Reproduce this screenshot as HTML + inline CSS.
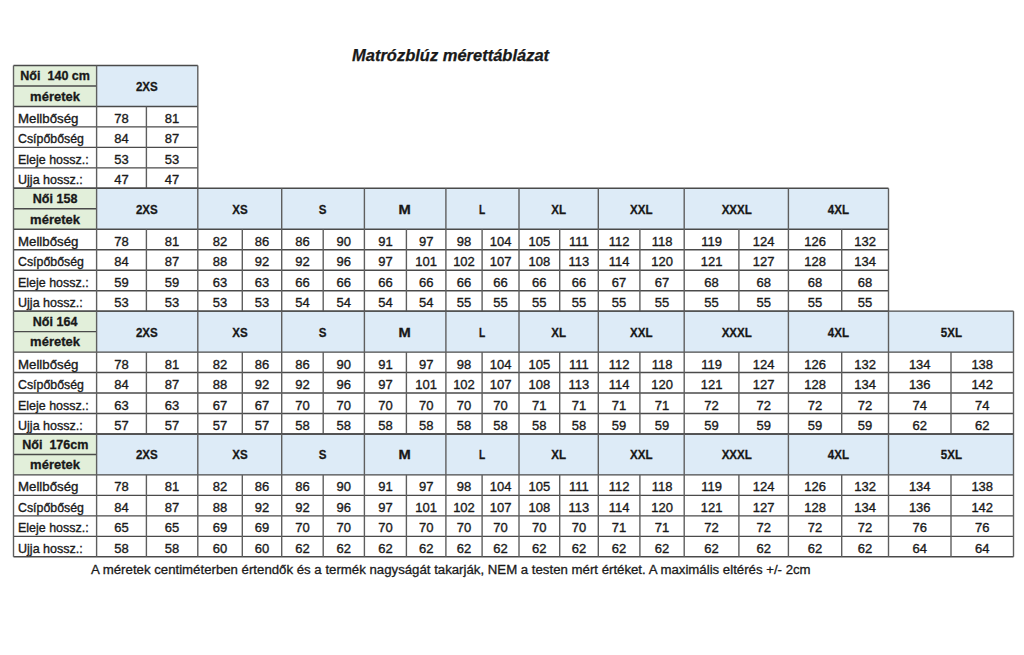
<!DOCTYPE html>
<html><head><meta charset="utf-8"><style>
html,body{margin:0;padding:0;background:#fff;}
body{width:1024px;height:655px;position:relative;overflow:hidden;font-family:"Liberation Sans",sans-serif;color:#1a1a1a;}
svg{position:absolute;left:0;top:0;}
line.v{stroke:#5e5e5e;}
.d,.h,.hl,.lab{position:absolute;display:flex;align-items:center;justify-content:center;white-space:nowrap;}
.d{font-size:13.0px;}
.d,.lab{padding-top:3.6px;box-sizing:border-box;-webkit-text-stroke:0.35px #1a1a1a;}
.foot{-webkit-text-stroke:0.3px #1a1a1a;}
.lab{justify-content:flex-start;font-size:13.0px;box-sizing:border-box;padding-left:4.5px;}
.lab span{display:inline-block;transform-origin:0 50%;}
.lab span{}
.h,.hl{font-weight:bold;font-size:13.0px;}
.h span{display:inline-block;transform:scaleX(0.85);font-size:13.6px;position:relative;top:0.5px;}
.h,.hl{-webkit-text-stroke:0.3px #111;}
.hl span.n{display:inline-block;transform:scaleX(0.965);}
.title{position:absolute;left:352px;top:46px;font-weight:bold;font-style:italic;font-size:16.5px;white-space:nowrap;-webkit-text-stroke:0.25px #111;}
.foot{position:absolute;left:91px;top:561.5px;font-size:13.23px;white-space:nowrap;}
</style></head><body>
<div class="title">Matrózblúz mérettáblázat</div>
<svg width="1024" height="655" viewBox="0 0 1024 655">
<rect x="13.50" y="65.50" width="83.10" height="40.94" fill="#e2efda"/><rect x="96.60" y="65.50" width="101.20" height="40.94" fill="#ddebf7"/><rect x="13.50" y="188.32" width="83.10" height="40.94" fill="#e2efda"/><rect x="96.60" y="188.32" width="791.90" height="40.94" fill="#ddebf7"/><rect x="13.50" y="311.15" width="83.10" height="40.94" fill="#e2efda"/><rect x="96.60" y="311.15" width="916.90" height="40.94" fill="#ddebf7"/><rect x="13.50" y="433.97" width="83.10" height="40.94" fill="#e2efda"/><rect x="96.60" y="433.97" width="916.90" height="40.94" fill="#ddebf7"/>
<g stroke="#4a4a4a" stroke-width="1.4">
<line x1="13.50" y1="65.50" x2="197.80" y2="65.50"/>
<line x1="13.50" y1="85.97" x2="96.60" y2="85.97"/>
<line x1="13.50" y1="106.44" x2="197.80" y2="106.44"/>
<line x1="13.50" y1="126.91" x2="197.80" y2="126.91"/>
<line x1="13.50" y1="147.38" x2="197.80" y2="147.38"/>
<line x1="13.50" y1="167.85" x2="197.80" y2="167.85"/>
<line x1="13.50" y1="188.32" x2="197.80" y2="188.32"/>
<line x1="13.50" y1="65.50" x2="13.50" y2="188.32" class="v"/>
<line x1="96.60" y1="65.50" x2="96.60" y2="188.32" class="v"/>
<line x1="197.80" y1="65.50" x2="197.80" y2="188.32" class="v"/>
<line x1="146.40" y1="106.44" x2="146.40" y2="188.32" class="v"/>
<line x1="13.50" y1="188.32" x2="888.50" y2="188.32"/>
<line x1="13.50" y1="208.80" x2="96.60" y2="208.80"/>
<line x1="13.50" y1="229.27" x2="888.50" y2="229.27"/>
<line x1="13.50" y1="249.74" x2="888.50" y2="249.74"/>
<line x1="13.50" y1="270.21" x2="888.50" y2="270.21"/>
<line x1="13.50" y1="290.68" x2="888.50" y2="290.68"/>
<line x1="13.50" y1="311.15" x2="888.50" y2="311.15"/>
<line x1="13.50" y1="188.32" x2="13.50" y2="311.15" class="v"/>
<line x1="96.60" y1="188.32" x2="96.60" y2="311.15" class="v"/>
<line x1="197.80" y1="188.32" x2="197.80" y2="311.15" class="v"/>
<line x1="146.40" y1="229.27" x2="146.40" y2="311.15" class="v"/>
<line x1="281.70" y1="188.32" x2="281.70" y2="311.15" class="v"/>
<line x1="242.30" y1="229.27" x2="242.30" y2="311.15" class="v"/>
<line x1="364.40" y1="188.32" x2="364.40" y2="311.15" class="v"/>
<line x1="323.20" y1="229.27" x2="323.20" y2="311.15" class="v"/>
<line x1="445.90" y1="188.32" x2="445.90" y2="311.15" class="v"/>
<line x1="406.40" y1="229.27" x2="406.40" y2="311.15" class="v"/>
<line x1="519.00" y1="188.32" x2="519.00" y2="311.15" class="v"/>
<line x1="482.10" y1="229.27" x2="482.10" y2="311.15" class="v"/>
<line x1="598.30" y1="188.32" x2="598.30" y2="311.15" class="v"/>
<line x1="559.70" y1="229.27" x2="559.70" y2="311.15" class="v"/>
<line x1="684.20" y1="188.32" x2="684.20" y2="311.15" class="v"/>
<line x1="639.90" y1="229.27" x2="639.90" y2="311.15" class="v"/>
<line x1="788.40" y1="188.32" x2="788.40" y2="311.15" class="v"/>
<line x1="738.90" y1="229.27" x2="738.90" y2="311.15" class="v"/>
<line x1="888.50" y1="188.32" x2="888.50" y2="311.15" class="v"/>
<line x1="841.70" y1="229.27" x2="841.70" y2="311.15" class="v"/>
<line x1="13.50" y1="311.15" x2="1013.50" y2="311.15"/>
<line x1="13.50" y1="331.62" x2="96.60" y2="331.62"/>
<line x1="13.50" y1="352.09" x2="1013.50" y2="352.09"/>
<line x1="13.50" y1="372.56" x2="1013.50" y2="372.56"/>
<line x1="13.50" y1="393.03" x2="1013.50" y2="393.03"/>
<line x1="13.50" y1="413.50" x2="1013.50" y2="413.50"/>
<line x1="13.50" y1="433.97" x2="1013.50" y2="433.97"/>
<line x1="13.50" y1="311.15" x2="13.50" y2="433.97" class="v"/>
<line x1="96.60" y1="311.15" x2="96.60" y2="433.97" class="v"/>
<line x1="197.80" y1="311.15" x2="197.80" y2="433.97" class="v"/>
<line x1="146.40" y1="352.09" x2="146.40" y2="433.97" class="v"/>
<line x1="281.70" y1="311.15" x2="281.70" y2="433.97" class="v"/>
<line x1="242.30" y1="352.09" x2="242.30" y2="433.97" class="v"/>
<line x1="364.40" y1="311.15" x2="364.40" y2="433.97" class="v"/>
<line x1="323.20" y1="352.09" x2="323.20" y2="433.97" class="v"/>
<line x1="445.90" y1="311.15" x2="445.90" y2="433.97" class="v"/>
<line x1="406.40" y1="352.09" x2="406.40" y2="433.97" class="v"/>
<line x1="519.00" y1="311.15" x2="519.00" y2="433.97" class="v"/>
<line x1="482.10" y1="352.09" x2="482.10" y2="433.97" class="v"/>
<line x1="598.30" y1="311.15" x2="598.30" y2="433.97" class="v"/>
<line x1="559.70" y1="352.09" x2="559.70" y2="433.97" class="v"/>
<line x1="684.20" y1="311.15" x2="684.20" y2="433.97" class="v"/>
<line x1="639.90" y1="352.09" x2="639.90" y2="433.97" class="v"/>
<line x1="788.40" y1="311.15" x2="788.40" y2="433.97" class="v"/>
<line x1="738.90" y1="352.09" x2="738.90" y2="433.97" class="v"/>
<line x1="888.50" y1="311.15" x2="888.50" y2="433.97" class="v"/>
<line x1="841.70" y1="352.09" x2="841.70" y2="433.97" class="v"/>
<line x1="1013.50" y1="311.15" x2="1013.50" y2="433.97" class="v"/>
<line x1="951.00" y1="352.09" x2="951.00" y2="433.97" class="v"/>
<line x1="13.50" y1="433.97" x2="1013.50" y2="433.97"/>
<line x1="13.50" y1="454.45" x2="96.60" y2="454.45"/>
<line x1="13.50" y1="474.92" x2="1013.50" y2="474.92"/>
<line x1="13.50" y1="495.39" x2="1013.50" y2="495.39"/>
<line x1="13.50" y1="515.86" x2="1013.50" y2="515.86"/>
<line x1="13.50" y1="536.33" x2="1013.50" y2="536.33"/>
<line x1="13.50" y1="556.80" x2="1013.50" y2="556.80"/>
<line x1="13.50" y1="433.97" x2="13.50" y2="556.80" class="v"/>
<line x1="96.60" y1="433.97" x2="96.60" y2="556.80" class="v"/>
<line x1="197.80" y1="433.97" x2="197.80" y2="556.80" class="v"/>
<line x1="146.40" y1="474.92" x2="146.40" y2="556.80" class="v"/>
<line x1="281.70" y1="433.97" x2="281.70" y2="556.80" class="v"/>
<line x1="242.30" y1="474.92" x2="242.30" y2="556.80" class="v"/>
<line x1="364.40" y1="433.97" x2="364.40" y2="556.80" class="v"/>
<line x1="323.20" y1="474.92" x2="323.20" y2="556.80" class="v"/>
<line x1="445.90" y1="433.97" x2="445.90" y2="556.80" class="v"/>
<line x1="406.40" y1="474.92" x2="406.40" y2="556.80" class="v"/>
<line x1="519.00" y1="433.97" x2="519.00" y2="556.80" class="v"/>
<line x1="482.10" y1="474.92" x2="482.10" y2="556.80" class="v"/>
<line x1="598.30" y1="433.97" x2="598.30" y2="556.80" class="v"/>
<line x1="559.70" y1="474.92" x2="559.70" y2="556.80" class="v"/>
<line x1="684.20" y1="433.97" x2="684.20" y2="556.80" class="v"/>
<line x1="639.90" y1="474.92" x2="639.90" y2="556.80" class="v"/>
<line x1="788.40" y1="433.97" x2="788.40" y2="556.80" class="v"/>
<line x1="738.90" y1="474.92" x2="738.90" y2="556.80" class="v"/>
<line x1="888.50" y1="433.97" x2="888.50" y2="556.80" class="v"/>
<line x1="841.70" y1="474.92" x2="841.70" y2="556.80" class="v"/>
<line x1="1013.50" y1="433.97" x2="1013.50" y2="556.80" class="v"/>
<line x1="951.00" y1="474.92" x2="951.00" y2="556.80" class="v"/>
</g>
</svg>
<div class="h" style="left:96.60px;top:65.50px;width:101.20px;height:40.94px"><span>2XS</span></div><div class="hl" style="left:13.50px;top:65.70px;width:83.10px;height:20.47px"><span class="n">Női&nbsp;&nbsp;140 cm</span></div><div class="hl" style="left:13.50px;top:85.97px;width:83.10px;height:20.47px">méretek</div><div class="lab" style="left:13.50px;top:106.44px;width:83.10px;height:20.47px"><span style="transform:scaleX(1.02)">Mellbőség</span></div><div class="d" style="left:96.60px;top:106.44px;width:49.80px;height:20.47px">78</div><div class="d" style="left:146.40px;top:106.44px;width:51.40px;height:20.47px">81</div><div class="lab" style="left:13.50px;top:126.91px;width:83.10px;height:20.47px"><span style="transform:scaleX(0.95)">Csípőbőség</span></div><div class="d" style="left:96.60px;top:126.91px;width:49.80px;height:20.47px">84</div><div class="d" style="left:146.40px;top:126.91px;width:51.40px;height:20.47px">87</div><div class="lab" style="left:13.50px;top:147.38px;width:83.10px;height:20.47px"><span style="transform:scaleX(0.958)">Eleje hossz.:</span></div><div class="d" style="left:96.60px;top:147.38px;width:49.80px;height:20.47px">53</div><div class="d" style="left:146.40px;top:147.38px;width:51.40px;height:20.47px">53</div><div class="lab" style="left:13.50px;top:167.85px;width:83.10px;height:20.47px"><span style="transform:scaleX(0.965)">Ujja hossz.:</span></div><div class="d" style="left:96.60px;top:167.85px;width:49.80px;height:20.47px">47</div><div class="d" style="left:146.40px;top:167.85px;width:51.40px;height:20.47px">47</div><div class="h" style="left:96.60px;top:188.32px;width:101.20px;height:40.94px"><span>2XS</span></div><div class="h" style="left:197.80px;top:188.32px;width:83.90px;height:40.94px"><span>XS</span></div><div class="h" style="left:281.70px;top:188.32px;width:82.70px;height:40.94px"><span>S</span></div><div class="h" style="left:364.40px;top:188.32px;width:81.50px;height:40.94px"><span style="transform:scaleX(1.08)">M</span></div><div class="h" style="left:445.90px;top:188.32px;width:73.10px;height:40.94px"><span style="transform:scaleX(0.75)">L</span></div><div class="h" style="left:519.00px;top:188.32px;width:79.30px;height:40.94px"><span>XL</span></div><div class="h" style="left:598.30px;top:188.32px;width:85.90px;height:40.94px"><span>XXL</span></div><div class="h" style="left:684.20px;top:188.32px;width:104.20px;height:40.94px"><span>XXXL</span></div><div class="h" style="left:788.40px;top:188.32px;width:100.10px;height:40.94px"><span>4XL</span></div><div class="hl" style="left:13.50px;top:188.52px;width:83.10px;height:20.47px"><span class="n">Női 158</span></div><div class="hl" style="left:13.50px;top:208.80px;width:83.10px;height:20.47px">méretek</div><div class="lab" style="left:13.50px;top:229.27px;width:83.10px;height:20.47px"><span style="transform:scaleX(1.02)">Mellbőség</span></div><div class="d" style="left:96.60px;top:229.27px;width:49.80px;height:20.47px">78</div><div class="d" style="left:146.40px;top:229.27px;width:51.40px;height:20.47px">81</div><div class="d" style="left:197.80px;top:229.27px;width:44.50px;height:20.47px">82</div><div class="d" style="left:242.30px;top:229.27px;width:39.40px;height:20.47px">86</div><div class="d" style="left:281.70px;top:229.27px;width:41.50px;height:20.47px">86</div><div class="d" style="left:323.20px;top:229.27px;width:41.20px;height:20.47px">90</div><div class="d" style="left:364.40px;top:229.27px;width:42.00px;height:20.47px">91</div><div class="d" style="left:406.40px;top:229.27px;width:39.50px;height:20.47px">97</div><div class="d" style="left:445.90px;top:229.27px;width:36.20px;height:20.47px">98</div><div class="d" style="left:482.10px;top:229.27px;width:36.90px;height:20.47px">104</div><div class="d" style="left:519.00px;top:229.27px;width:40.70px;height:20.47px">105</div><div class="d" style="left:559.70px;top:229.27px;width:38.60px;height:20.47px">111</div><div class="d" style="left:598.30px;top:229.27px;width:41.60px;height:20.47px">112</div><div class="d" style="left:639.90px;top:229.27px;width:44.30px;height:20.47px">118</div><div class="d" style="left:684.20px;top:229.27px;width:54.70px;height:20.47px">119</div><div class="d" style="left:738.90px;top:229.27px;width:49.50px;height:20.47px">124</div><div class="d" style="left:788.40px;top:229.27px;width:53.30px;height:20.47px">126</div><div class="d" style="left:841.70px;top:229.27px;width:46.80px;height:20.47px">132</div><div class="lab" style="left:13.50px;top:249.74px;width:83.10px;height:20.47px"><span style="transform:scaleX(0.95)">Csípőbőség</span></div><div class="d" style="left:96.60px;top:249.74px;width:49.80px;height:20.47px">84</div><div class="d" style="left:146.40px;top:249.74px;width:51.40px;height:20.47px">87</div><div class="d" style="left:197.80px;top:249.74px;width:44.50px;height:20.47px">88</div><div class="d" style="left:242.30px;top:249.74px;width:39.40px;height:20.47px">92</div><div class="d" style="left:281.70px;top:249.74px;width:41.50px;height:20.47px">92</div><div class="d" style="left:323.20px;top:249.74px;width:41.20px;height:20.47px">96</div><div class="d" style="left:364.40px;top:249.74px;width:42.00px;height:20.47px">97</div><div class="d" style="left:406.40px;top:249.74px;width:39.50px;height:20.47px">101</div><div class="d" style="left:445.90px;top:249.74px;width:36.20px;height:20.47px">102</div><div class="d" style="left:482.10px;top:249.74px;width:36.90px;height:20.47px">107</div><div class="d" style="left:519.00px;top:249.74px;width:40.70px;height:20.47px">108</div><div class="d" style="left:559.70px;top:249.74px;width:38.60px;height:20.47px">113</div><div class="d" style="left:598.30px;top:249.74px;width:41.60px;height:20.47px">114</div><div class="d" style="left:639.90px;top:249.74px;width:44.30px;height:20.47px">120</div><div class="d" style="left:684.20px;top:249.74px;width:54.70px;height:20.47px">121</div><div class="d" style="left:738.90px;top:249.74px;width:49.50px;height:20.47px">127</div><div class="d" style="left:788.40px;top:249.74px;width:53.30px;height:20.47px">128</div><div class="d" style="left:841.70px;top:249.74px;width:46.80px;height:20.47px">134</div><div class="lab" style="left:13.50px;top:270.21px;width:83.10px;height:20.47px"><span style="transform:scaleX(0.958)">Eleje hossz.:</span></div><div class="d" style="left:96.60px;top:270.21px;width:49.80px;height:20.47px">59</div><div class="d" style="left:146.40px;top:270.21px;width:51.40px;height:20.47px">59</div><div class="d" style="left:197.80px;top:270.21px;width:44.50px;height:20.47px">63</div><div class="d" style="left:242.30px;top:270.21px;width:39.40px;height:20.47px">63</div><div class="d" style="left:281.70px;top:270.21px;width:41.50px;height:20.47px">66</div><div class="d" style="left:323.20px;top:270.21px;width:41.20px;height:20.47px">66</div><div class="d" style="left:364.40px;top:270.21px;width:42.00px;height:20.47px">66</div><div class="d" style="left:406.40px;top:270.21px;width:39.50px;height:20.47px">66</div><div class="d" style="left:445.90px;top:270.21px;width:36.20px;height:20.47px">66</div><div class="d" style="left:482.10px;top:270.21px;width:36.90px;height:20.47px">66</div><div class="d" style="left:519.00px;top:270.21px;width:40.70px;height:20.47px">66</div><div class="d" style="left:559.70px;top:270.21px;width:38.60px;height:20.47px">66</div><div class="d" style="left:598.30px;top:270.21px;width:41.60px;height:20.47px">67</div><div class="d" style="left:639.90px;top:270.21px;width:44.30px;height:20.47px">67</div><div class="d" style="left:684.20px;top:270.21px;width:54.70px;height:20.47px">68</div><div class="d" style="left:738.90px;top:270.21px;width:49.50px;height:20.47px">68</div><div class="d" style="left:788.40px;top:270.21px;width:53.30px;height:20.47px">68</div><div class="d" style="left:841.70px;top:270.21px;width:46.80px;height:20.47px">68</div><div class="lab" style="left:13.50px;top:290.68px;width:83.10px;height:20.47px"><span style="transform:scaleX(0.965)">Ujja hossz.:</span></div><div class="d" style="left:96.60px;top:290.68px;width:49.80px;height:20.47px">53</div><div class="d" style="left:146.40px;top:290.68px;width:51.40px;height:20.47px">53</div><div class="d" style="left:197.80px;top:290.68px;width:44.50px;height:20.47px">53</div><div class="d" style="left:242.30px;top:290.68px;width:39.40px;height:20.47px">53</div><div class="d" style="left:281.70px;top:290.68px;width:41.50px;height:20.47px">54</div><div class="d" style="left:323.20px;top:290.68px;width:41.20px;height:20.47px">54</div><div class="d" style="left:364.40px;top:290.68px;width:42.00px;height:20.47px">54</div><div class="d" style="left:406.40px;top:290.68px;width:39.50px;height:20.47px">54</div><div class="d" style="left:445.90px;top:290.68px;width:36.20px;height:20.47px">55</div><div class="d" style="left:482.10px;top:290.68px;width:36.90px;height:20.47px">55</div><div class="d" style="left:519.00px;top:290.68px;width:40.70px;height:20.47px">55</div><div class="d" style="left:559.70px;top:290.68px;width:38.60px;height:20.47px">55</div><div class="d" style="left:598.30px;top:290.68px;width:41.60px;height:20.47px">55</div><div class="d" style="left:639.90px;top:290.68px;width:44.30px;height:20.47px">55</div><div class="d" style="left:684.20px;top:290.68px;width:54.70px;height:20.47px">55</div><div class="d" style="left:738.90px;top:290.68px;width:49.50px;height:20.47px">55</div><div class="d" style="left:788.40px;top:290.68px;width:53.30px;height:20.47px">55</div><div class="d" style="left:841.70px;top:290.68px;width:46.80px;height:20.47px">55</div><div class="h" style="left:96.60px;top:311.15px;width:101.20px;height:40.94px"><span>2XS</span></div><div class="h" style="left:197.80px;top:311.15px;width:83.90px;height:40.94px"><span>XS</span></div><div class="h" style="left:281.70px;top:311.15px;width:82.70px;height:40.94px"><span>S</span></div><div class="h" style="left:364.40px;top:311.15px;width:81.50px;height:40.94px"><span style="transform:scaleX(1.08)">M</span></div><div class="h" style="left:445.90px;top:311.15px;width:73.10px;height:40.94px"><span style="transform:scaleX(0.75)">L</span></div><div class="h" style="left:519.00px;top:311.15px;width:79.30px;height:40.94px"><span>XL</span></div><div class="h" style="left:598.30px;top:311.15px;width:85.90px;height:40.94px"><span>XXL</span></div><div class="h" style="left:684.20px;top:311.15px;width:104.20px;height:40.94px"><span>XXXL</span></div><div class="h" style="left:788.40px;top:311.15px;width:100.10px;height:40.94px"><span>4XL</span></div><div class="h" style="left:888.50px;top:311.15px;width:125.00px;height:40.94px"><span>5XL</span></div><div class="hl" style="left:13.50px;top:311.35px;width:83.10px;height:20.47px"><span class="n">Női 164</span></div><div class="hl" style="left:13.50px;top:331.62px;width:83.10px;height:20.47px">méretek</div><div class="lab" style="left:13.50px;top:352.09px;width:83.10px;height:20.47px"><span style="transform:scaleX(1.02)">Mellbőség</span></div><div class="d" style="left:96.60px;top:352.09px;width:49.80px;height:20.47px">78</div><div class="d" style="left:146.40px;top:352.09px;width:51.40px;height:20.47px">81</div><div class="d" style="left:197.80px;top:352.09px;width:44.50px;height:20.47px">82</div><div class="d" style="left:242.30px;top:352.09px;width:39.40px;height:20.47px">86</div><div class="d" style="left:281.70px;top:352.09px;width:41.50px;height:20.47px">86</div><div class="d" style="left:323.20px;top:352.09px;width:41.20px;height:20.47px">90</div><div class="d" style="left:364.40px;top:352.09px;width:42.00px;height:20.47px">91</div><div class="d" style="left:406.40px;top:352.09px;width:39.50px;height:20.47px">97</div><div class="d" style="left:445.90px;top:352.09px;width:36.20px;height:20.47px">98</div><div class="d" style="left:482.10px;top:352.09px;width:36.90px;height:20.47px">104</div><div class="d" style="left:519.00px;top:352.09px;width:40.70px;height:20.47px">105</div><div class="d" style="left:559.70px;top:352.09px;width:38.60px;height:20.47px">111</div><div class="d" style="left:598.30px;top:352.09px;width:41.60px;height:20.47px">112</div><div class="d" style="left:639.90px;top:352.09px;width:44.30px;height:20.47px">118</div><div class="d" style="left:684.20px;top:352.09px;width:54.70px;height:20.47px">119</div><div class="d" style="left:738.90px;top:352.09px;width:49.50px;height:20.47px">124</div><div class="d" style="left:788.40px;top:352.09px;width:53.30px;height:20.47px">126</div><div class="d" style="left:841.70px;top:352.09px;width:46.80px;height:20.47px">132</div><div class="d" style="left:888.50px;top:352.09px;width:62.50px;height:20.47px">134</div><div class="d" style="left:951.00px;top:352.09px;width:62.50px;height:20.47px">138</div><div class="lab" style="left:13.50px;top:372.56px;width:83.10px;height:20.47px"><span style="transform:scaleX(0.95)">Csípőbőség</span></div><div class="d" style="left:96.60px;top:372.56px;width:49.80px;height:20.47px">84</div><div class="d" style="left:146.40px;top:372.56px;width:51.40px;height:20.47px">87</div><div class="d" style="left:197.80px;top:372.56px;width:44.50px;height:20.47px">88</div><div class="d" style="left:242.30px;top:372.56px;width:39.40px;height:20.47px">92</div><div class="d" style="left:281.70px;top:372.56px;width:41.50px;height:20.47px">92</div><div class="d" style="left:323.20px;top:372.56px;width:41.20px;height:20.47px">96</div><div class="d" style="left:364.40px;top:372.56px;width:42.00px;height:20.47px">97</div><div class="d" style="left:406.40px;top:372.56px;width:39.50px;height:20.47px">101</div><div class="d" style="left:445.90px;top:372.56px;width:36.20px;height:20.47px">102</div><div class="d" style="left:482.10px;top:372.56px;width:36.90px;height:20.47px">107</div><div class="d" style="left:519.00px;top:372.56px;width:40.70px;height:20.47px">108</div><div class="d" style="left:559.70px;top:372.56px;width:38.60px;height:20.47px">113</div><div class="d" style="left:598.30px;top:372.56px;width:41.60px;height:20.47px">114</div><div class="d" style="left:639.90px;top:372.56px;width:44.30px;height:20.47px">120</div><div class="d" style="left:684.20px;top:372.56px;width:54.70px;height:20.47px">121</div><div class="d" style="left:738.90px;top:372.56px;width:49.50px;height:20.47px">127</div><div class="d" style="left:788.40px;top:372.56px;width:53.30px;height:20.47px">128</div><div class="d" style="left:841.70px;top:372.56px;width:46.80px;height:20.47px">134</div><div class="d" style="left:888.50px;top:372.56px;width:62.50px;height:20.47px">136</div><div class="d" style="left:951.00px;top:372.56px;width:62.50px;height:20.47px">142</div><div class="lab" style="left:13.50px;top:393.03px;width:83.10px;height:20.47px"><span style="transform:scaleX(0.958)">Eleje hossz.:</span></div><div class="d" style="left:96.60px;top:393.03px;width:49.80px;height:20.47px">63</div><div class="d" style="left:146.40px;top:393.03px;width:51.40px;height:20.47px">63</div><div class="d" style="left:197.80px;top:393.03px;width:44.50px;height:20.47px">67</div><div class="d" style="left:242.30px;top:393.03px;width:39.40px;height:20.47px">67</div><div class="d" style="left:281.70px;top:393.03px;width:41.50px;height:20.47px">70</div><div class="d" style="left:323.20px;top:393.03px;width:41.20px;height:20.47px">70</div><div class="d" style="left:364.40px;top:393.03px;width:42.00px;height:20.47px">70</div><div class="d" style="left:406.40px;top:393.03px;width:39.50px;height:20.47px">70</div><div class="d" style="left:445.90px;top:393.03px;width:36.20px;height:20.47px">70</div><div class="d" style="left:482.10px;top:393.03px;width:36.90px;height:20.47px">70</div><div class="d" style="left:519.00px;top:393.03px;width:40.70px;height:20.47px">71</div><div class="d" style="left:559.70px;top:393.03px;width:38.60px;height:20.47px">71</div><div class="d" style="left:598.30px;top:393.03px;width:41.60px;height:20.47px">71</div><div class="d" style="left:639.90px;top:393.03px;width:44.30px;height:20.47px">71</div><div class="d" style="left:684.20px;top:393.03px;width:54.70px;height:20.47px">72</div><div class="d" style="left:738.90px;top:393.03px;width:49.50px;height:20.47px">72</div><div class="d" style="left:788.40px;top:393.03px;width:53.30px;height:20.47px">72</div><div class="d" style="left:841.70px;top:393.03px;width:46.80px;height:20.47px">72</div><div class="d" style="left:888.50px;top:393.03px;width:62.50px;height:20.47px">74</div><div class="d" style="left:951.00px;top:393.03px;width:62.50px;height:20.47px">74</div><div class="lab" style="left:13.50px;top:413.50px;width:83.10px;height:20.47px"><span style="transform:scaleX(0.965)">Ujja hossz.:</span></div><div class="d" style="left:96.60px;top:413.50px;width:49.80px;height:20.47px">57</div><div class="d" style="left:146.40px;top:413.50px;width:51.40px;height:20.47px">57</div><div class="d" style="left:197.80px;top:413.50px;width:44.50px;height:20.47px">57</div><div class="d" style="left:242.30px;top:413.50px;width:39.40px;height:20.47px">57</div><div class="d" style="left:281.70px;top:413.50px;width:41.50px;height:20.47px">58</div><div class="d" style="left:323.20px;top:413.50px;width:41.20px;height:20.47px">58</div><div class="d" style="left:364.40px;top:413.50px;width:42.00px;height:20.47px">58</div><div class="d" style="left:406.40px;top:413.50px;width:39.50px;height:20.47px">58</div><div class="d" style="left:445.90px;top:413.50px;width:36.20px;height:20.47px">58</div><div class="d" style="left:482.10px;top:413.50px;width:36.90px;height:20.47px">58</div><div class="d" style="left:519.00px;top:413.50px;width:40.70px;height:20.47px">58</div><div class="d" style="left:559.70px;top:413.50px;width:38.60px;height:20.47px">58</div><div class="d" style="left:598.30px;top:413.50px;width:41.60px;height:20.47px">59</div><div class="d" style="left:639.90px;top:413.50px;width:44.30px;height:20.47px">59</div><div class="d" style="left:684.20px;top:413.50px;width:54.70px;height:20.47px">59</div><div class="d" style="left:738.90px;top:413.50px;width:49.50px;height:20.47px">59</div><div class="d" style="left:788.40px;top:413.50px;width:53.30px;height:20.47px">59</div><div class="d" style="left:841.70px;top:413.50px;width:46.80px;height:20.47px">59</div><div class="d" style="left:888.50px;top:413.50px;width:62.50px;height:20.47px">62</div><div class="d" style="left:951.00px;top:413.50px;width:62.50px;height:20.47px">62</div><div class="h" style="left:96.60px;top:433.97px;width:101.20px;height:40.94px"><span>2XS</span></div><div class="h" style="left:197.80px;top:433.97px;width:83.90px;height:40.94px"><span>XS</span></div><div class="h" style="left:281.70px;top:433.97px;width:82.70px;height:40.94px"><span>S</span></div><div class="h" style="left:364.40px;top:433.97px;width:81.50px;height:40.94px"><span style="transform:scaleX(1.08)">M</span></div><div class="h" style="left:445.90px;top:433.97px;width:73.10px;height:40.94px"><span style="transform:scaleX(0.75)">L</span></div><div class="h" style="left:519.00px;top:433.97px;width:79.30px;height:40.94px"><span>XL</span></div><div class="h" style="left:598.30px;top:433.97px;width:85.90px;height:40.94px"><span>XXL</span></div><div class="h" style="left:684.20px;top:433.97px;width:104.20px;height:40.94px"><span>XXXL</span></div><div class="h" style="left:788.40px;top:433.97px;width:100.10px;height:40.94px"><span>4XL</span></div><div class="h" style="left:888.50px;top:433.97px;width:125.00px;height:40.94px"><span>5XL</span></div><div class="hl" style="left:13.50px;top:434.17px;width:83.10px;height:20.47px"><span class="n">Női&nbsp;&nbsp;176cm</span></div><div class="hl" style="left:13.50px;top:454.45px;width:83.10px;height:20.47px">méretek</div><div class="lab" style="left:13.50px;top:474.92px;width:83.10px;height:20.47px"><span style="transform:scaleX(1.02)">Mellbőség</span></div><div class="d" style="left:96.60px;top:474.92px;width:49.80px;height:20.47px">78</div><div class="d" style="left:146.40px;top:474.92px;width:51.40px;height:20.47px">81</div><div class="d" style="left:197.80px;top:474.92px;width:44.50px;height:20.47px">82</div><div class="d" style="left:242.30px;top:474.92px;width:39.40px;height:20.47px">86</div><div class="d" style="left:281.70px;top:474.92px;width:41.50px;height:20.47px">86</div><div class="d" style="left:323.20px;top:474.92px;width:41.20px;height:20.47px">90</div><div class="d" style="left:364.40px;top:474.92px;width:42.00px;height:20.47px">91</div><div class="d" style="left:406.40px;top:474.92px;width:39.50px;height:20.47px">97</div><div class="d" style="left:445.90px;top:474.92px;width:36.20px;height:20.47px">98</div><div class="d" style="left:482.10px;top:474.92px;width:36.90px;height:20.47px">104</div><div class="d" style="left:519.00px;top:474.92px;width:40.70px;height:20.47px">105</div><div class="d" style="left:559.70px;top:474.92px;width:38.60px;height:20.47px">111</div><div class="d" style="left:598.30px;top:474.92px;width:41.60px;height:20.47px">112</div><div class="d" style="left:639.90px;top:474.92px;width:44.30px;height:20.47px">118</div><div class="d" style="left:684.20px;top:474.92px;width:54.70px;height:20.47px">119</div><div class="d" style="left:738.90px;top:474.92px;width:49.50px;height:20.47px">124</div><div class="d" style="left:788.40px;top:474.92px;width:53.30px;height:20.47px">126</div><div class="d" style="left:841.70px;top:474.92px;width:46.80px;height:20.47px">132</div><div class="d" style="left:888.50px;top:474.92px;width:62.50px;height:20.47px">134</div><div class="d" style="left:951.00px;top:474.92px;width:62.50px;height:20.47px">138</div><div class="lab" style="left:13.50px;top:495.39px;width:83.10px;height:20.47px"><span style="transform:scaleX(0.95)">Csípőbőség</span></div><div class="d" style="left:96.60px;top:495.39px;width:49.80px;height:20.47px">84</div><div class="d" style="left:146.40px;top:495.39px;width:51.40px;height:20.47px">87</div><div class="d" style="left:197.80px;top:495.39px;width:44.50px;height:20.47px">88</div><div class="d" style="left:242.30px;top:495.39px;width:39.40px;height:20.47px">92</div><div class="d" style="left:281.70px;top:495.39px;width:41.50px;height:20.47px">92</div><div class="d" style="left:323.20px;top:495.39px;width:41.20px;height:20.47px">96</div><div class="d" style="left:364.40px;top:495.39px;width:42.00px;height:20.47px">97</div><div class="d" style="left:406.40px;top:495.39px;width:39.50px;height:20.47px">101</div><div class="d" style="left:445.90px;top:495.39px;width:36.20px;height:20.47px">102</div><div class="d" style="left:482.10px;top:495.39px;width:36.90px;height:20.47px">107</div><div class="d" style="left:519.00px;top:495.39px;width:40.70px;height:20.47px">108</div><div class="d" style="left:559.70px;top:495.39px;width:38.60px;height:20.47px">113</div><div class="d" style="left:598.30px;top:495.39px;width:41.60px;height:20.47px">114</div><div class="d" style="left:639.90px;top:495.39px;width:44.30px;height:20.47px">120</div><div class="d" style="left:684.20px;top:495.39px;width:54.70px;height:20.47px">121</div><div class="d" style="left:738.90px;top:495.39px;width:49.50px;height:20.47px">127</div><div class="d" style="left:788.40px;top:495.39px;width:53.30px;height:20.47px">128</div><div class="d" style="left:841.70px;top:495.39px;width:46.80px;height:20.47px">134</div><div class="d" style="left:888.50px;top:495.39px;width:62.50px;height:20.47px">136</div><div class="d" style="left:951.00px;top:495.39px;width:62.50px;height:20.47px">142</div><div class="lab" style="left:13.50px;top:515.86px;width:83.10px;height:20.47px"><span style="transform:scaleX(0.958)">Eleje hossz.:</span></div><div class="d" style="left:96.60px;top:515.86px;width:49.80px;height:20.47px">65</div><div class="d" style="left:146.40px;top:515.86px;width:51.40px;height:20.47px">65</div><div class="d" style="left:197.80px;top:515.86px;width:44.50px;height:20.47px">69</div><div class="d" style="left:242.30px;top:515.86px;width:39.40px;height:20.47px">69</div><div class="d" style="left:281.70px;top:515.86px;width:41.50px;height:20.47px">70</div><div class="d" style="left:323.20px;top:515.86px;width:41.20px;height:20.47px">70</div><div class="d" style="left:364.40px;top:515.86px;width:42.00px;height:20.47px">70</div><div class="d" style="left:406.40px;top:515.86px;width:39.50px;height:20.47px">70</div><div class="d" style="left:445.90px;top:515.86px;width:36.20px;height:20.47px">70</div><div class="d" style="left:482.10px;top:515.86px;width:36.90px;height:20.47px">70</div><div class="d" style="left:519.00px;top:515.86px;width:40.70px;height:20.47px">70</div><div class="d" style="left:559.70px;top:515.86px;width:38.60px;height:20.47px">70</div><div class="d" style="left:598.30px;top:515.86px;width:41.60px;height:20.47px">71</div><div class="d" style="left:639.90px;top:515.86px;width:44.30px;height:20.47px">71</div><div class="d" style="left:684.20px;top:515.86px;width:54.70px;height:20.47px">72</div><div class="d" style="left:738.90px;top:515.86px;width:49.50px;height:20.47px">72</div><div class="d" style="left:788.40px;top:515.86px;width:53.30px;height:20.47px">72</div><div class="d" style="left:841.70px;top:515.86px;width:46.80px;height:20.47px">72</div><div class="d" style="left:888.50px;top:515.86px;width:62.50px;height:20.47px">76</div><div class="d" style="left:951.00px;top:515.86px;width:62.50px;height:20.47px">76</div><div class="lab" style="left:13.50px;top:536.33px;width:83.10px;height:20.47px"><span style="transform:scaleX(0.965)">Ujja hossz.:</span></div><div class="d" style="left:96.60px;top:536.33px;width:49.80px;height:20.47px">58</div><div class="d" style="left:146.40px;top:536.33px;width:51.40px;height:20.47px">58</div><div class="d" style="left:197.80px;top:536.33px;width:44.50px;height:20.47px">60</div><div class="d" style="left:242.30px;top:536.33px;width:39.40px;height:20.47px">60</div><div class="d" style="left:281.70px;top:536.33px;width:41.50px;height:20.47px">62</div><div class="d" style="left:323.20px;top:536.33px;width:41.20px;height:20.47px">62</div><div class="d" style="left:364.40px;top:536.33px;width:42.00px;height:20.47px">62</div><div class="d" style="left:406.40px;top:536.33px;width:39.50px;height:20.47px">62</div><div class="d" style="left:445.90px;top:536.33px;width:36.20px;height:20.47px">62</div><div class="d" style="left:482.10px;top:536.33px;width:36.90px;height:20.47px">62</div><div class="d" style="left:519.00px;top:536.33px;width:40.70px;height:20.47px">62</div><div class="d" style="left:559.70px;top:536.33px;width:38.60px;height:20.47px">62</div><div class="d" style="left:598.30px;top:536.33px;width:41.60px;height:20.47px">62</div><div class="d" style="left:639.90px;top:536.33px;width:44.30px;height:20.47px">62</div><div class="d" style="left:684.20px;top:536.33px;width:54.70px;height:20.47px">62</div><div class="d" style="left:738.90px;top:536.33px;width:49.50px;height:20.47px">62</div><div class="d" style="left:788.40px;top:536.33px;width:53.30px;height:20.47px">62</div><div class="d" style="left:841.70px;top:536.33px;width:46.80px;height:20.47px">62</div><div class="d" style="left:888.50px;top:536.33px;width:62.50px;height:20.47px">64</div><div class="d" style="left:951.00px;top:536.33px;width:62.50px;height:20.47px">64</div>
<div class="foot">A méretek centiméterben értendők és a termék nagyságát takarják, NEM a testen mért értéket. A maximális eltérés +/- 2cm</div>
</body></html>
